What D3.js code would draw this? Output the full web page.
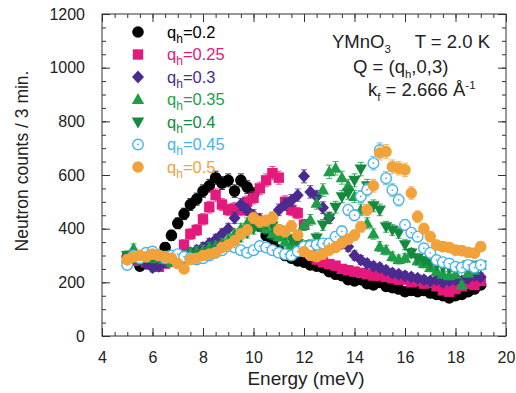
<!DOCTYPE html>
<html>
<head>
<meta charset="utf-8">
<script src="https://cdn.jsdelivr.net/npm/d3@7"></script>
<style>
  html, body { margin: 0; padding: 0; background: #fff; }
  svg { display: block; font-family: "Liberation Sans", Arial, Helvetica, sans-serif; }
</style>
</head>
<body>
<svg id="chart" width="516" height="393"></svg>
<script>
// Energy transfer grid (meV)
const energy = [
  5.00, 5.25, 5.50, 5.75, 6.00, 6.25, 6.50, 6.75, 7.00, 7.25, 7.50, 7.75,
  8.00, 8.25, 8.50, 8.75, 9.00, 9.25, 9.50, 9.75, 10.00, 10.25, 10.50, 10.75,
  11.00, 11.25, 11.50, 11.75, 12.00, 12.25, 12.50, 12.75, 13.00, 13.25, 13.50, 13.75,
  14.00, 14.25, 14.50, 14.75, 15.00, 15.25, 15.50, 15.75, 16.00, 16.25, 16.50, 16.75,
  17.00, 17.25, 17.50, 17.75, 18.00, 18.25, 18.50, 18.75, 19.00
];

// Neutron counts per 3 min for each q_h
const q020 = [
  295, 290, 260, 270, 285, 300, 330, 375, 420, 455, 490, 510,
  540, 560, 590, 570, 580, 540, 580, 555, 530, 410, 375, 350,
  320, 300, 290, 280, 275, 265, 260, 255, 240, 230, 225, 210,
  205, 210, 195, 190, 200, 185, 180, 175, 165, 170, 165, 170,
  160, 155, 150, 142, 150, 155, 165, 175, 190
];
const q025 = [
  290, 280, 285, 275, 265, 258, 270, 285, 300, 340, 380, 395,
  435, 480, 525, 490, 470, 475, 470, 500, 515, 550, 580, 607,
  590, 500, 470, 458, 414, 330, 285, 275, 268, 262, 250, 245,
  240, 235, 230, 225, 225, 220, 215, 210, 210, 200, 205, 195,
  200, 185, 170, 165, 175, 185, 195, 190, 205
];
const q030 = [
  280, 290, 285, 270, 255, 260, 275, 280, 290, 300, 310, 320,
  330, 345, 360, 380, 400, 440, 490, 470, 450, 435, 420, 440,
  470, 490, 505, 525, 595, 537, 520, 478, 440, 358, 345, 333,
  300, 283, 270, 260, 255, 245, 235, 230, 225, 220, 215, 210,
  205, 210, 200, 205, 210, 205, 215, 225, 220
];
const q035 = [
  290, 325, 300, 295, 290, 300, 285, 275, 290, 300, 310, 315,
  320, 330, 335, 345, 360, 380, 400, 420, 430, 415, 400, 380,
  370, 350, 340, 360, 414, 432, 495, 544, 612, 625, 590, 560,
  520, 470, 420, 380, 333, 320, 296, 285, 290, 309, 280, 270,
  255, 240, 230, 225, 230, 190, 235, 246, 265
];
const q040 = [
  300, 290, 285, 300, 295, 290, 300, 290, 295, 285, 290, 300,
  305, 310, 320, 330, 340, 350, 370, 385, 400, 410, 420, 410,
  395, 380, 360, 345, 335, 340, 365, 414, 440, 480, 519, 533,
  580, 622, 560, 485, 470, 407, 395, 384, 340, 309, 290, 280,
  270, 265, 258, 255, 258, 255, 265, 260, 265
];
const q045 = [
  265, 300, 290, 310, 315, 300, 290, 300, 305, 295, 290, 285,
  290, 300, 310, 320, 335, 330, 320, 310, 320, 335, 330, 320,
  310, 305, 300, 315, 333, 335, 340, 345, 345, 370, 390, 470,
  450, 520, 545, 644, 693, 588, 544, 507, 414, 385, 370, 327,
  310, 283, 275, 270, 258, 255, 265, 255, 265
];
const q050 = [
  285, 295, 300, 295, 305, 300, 295, 290, 270, 250, 285, 290,
  300, 305, 310, 330, 340, 355, 380, 395, 440, 426, 430, 440,
  395, 389, 410, 376, 314, 300, 296, 305, 320, 330, 347, 360,
  376, 407, 470, 560, 682, 687, 631, 625, 619, 533, 445, 400,
  370, 339, 333, 330, 320, 318, 312, 309, 333
];

// Axis ticks
const xTickLabels = [4, 6, 8, 10, 12, 14, 16, 18, 20];
const yTickLabels = [0, 200, 400, 600, 800, 1000, 1200];

// Series styling
const seriesNames = ["0.2", "0.25", "0.3", "0.35", "0.4", "0.45", "0.5"];
const seriesColors = ["#000000", "#e3197b", "#4b2b8f", "#1f9e4a", "#138a3e", "#49b4e8", "#f2a23a"];
const seriesShapes = ["circle", "square", "diamond", "triUp", "triDown", "ring", "circle"];
const seriesValues = [q020, q025, q030, q035, q040, q045, q050];

const svg = d3.select("#chart");
const x = d3.scaleLinear().domain([4, 20]).range([102, 506]);
const y = d3.scaleLinear().domain([0, 1200]).range([336, 14]);
const frameColor = "#333";
const labelFont = "Liberation Sans, Arial, sans-serif";

// Marker shapes
const shapePath = {
  circle: d3.symbol(d3.symbolCircle, Math.PI * 5.8 * 5.8)(),
  square: "M-5.2,-5.2H5.2V5.2H-5.2Z",
  diamond: "M0,-6.5L6,0L0,6.5L-6,0Z",
  triUp: "M0,-6.5L6.2,4.5L-6.2,4.5Z",
  triDown: "M0,6.5L6.2,-4.5L-6.2,-4.5Z"
};

function drawMarker(g, shape, color) {
  if (shape === "ring") {
    g.append("circle").attr("r", 5.3).attr("fill", "#fff")
      .attr("stroke", color).attr("stroke-width", 1.4);
    g.append("circle").attr("r", 0.9).attr("fill", color);
  } else {
    g.append("path").attr("d", shapePath[shape]).attr("fill", color);
  }
}

// Axes: labelled majors + short minor ticks, all pointing inward
const xMinor = d3.range(4, 20.001, 0.5);
const yMinor = d3.range(0, 1200.001, 50);

function styleAxis(g) {
  g.select(".domain").remove();
  g.selectAll(".tick line").attr("stroke", frameColor).attr("stroke-width", 1);
}

svg.append("g").attr("transform", "translate(0,336)")
  .call(d3.axisBottom(x).tickValues(xMinor).tickSize(-4).tickFormat(""))
  .call(styleAxis);
svg.append("g").attr("transform", "translate(0,336)")
  .call(d3.axisBottom(x).tickValues(xTickLabels).tickSize(-8).tickPadding(16).tickFormat(d3.format("d")))
  .call(styleAxis)
  .call(g => g.selectAll("text").attr("font-size", 16).attr("fill", "#222").attr("font-family", labelFont));
svg.append("g").attr("transform", "translate(0,14)")
  .call(d3.axisTop(x).tickValues(xMinor).tickSize(-4).tickFormat(""))
  .call(styleAxis);
svg.append("g").attr("transform", "translate(0,14)")
  .call(d3.axisTop(x).tickValues(xTickLabels).tickSize(-8).tickFormat(""))
  .call(styleAxis);

svg.append("g").attr("transform", "translate(102,0)")
  .call(d3.axisLeft(y).tickValues(yMinor).tickSize(-4).tickFormat(""))
  .call(styleAxis);
svg.append("g").attr("transform", "translate(102,0)")
  .call(d3.axisLeft(y).tickValues(yTickLabels).tickSize(-8).tickPadding(17).tickFormat(d3.format("d")))
  .call(styleAxis)
  .call(g => g.selectAll("text").attr("font-size", 16).attr("fill", "#222").attr("font-family", labelFont));
svg.append("g").attr("transform", "translate(506,0)")
  .call(d3.axisRight(y).tickValues(yMinor).tickSize(-4).tickFormat(""))
  .call(styleAxis);
svg.append("g").attr("transform", "translate(506,0)")
  .call(d3.axisRight(y).tickValues(yTickLabels).tickSize(-8).tickFormat(""))
  .call(styleAxis);

// Plot frame
svg.append("rect")
  .attr("x", x(4)).attr("y", y(1200))
  .attr("width", x(20) - x(4)).attr("height", y(0) - y(1200))
  .attr("fill", "none").attr("stroke", frameColor).attr("stroke-width", 1);

// Axis titles
svg.append("text")
  .attr("x", 306).attr("y", 385)
  .attr("text-anchor", "middle").attr("font-size", 19).attr("fill", "#222")
  .text("Energy (meV)");
svg.append("text")
  .attr("transform", "translate(28,161) rotate(-90)")
  .attr("text-anchor", "middle").attr("font-size", 17.5).attr("fill", "#222")
  .text("Neutron counts / 3 min.");

// Data: error bars (counting statistics) under markers, one series at a time
const plot = svg.append("g");
seriesValues.forEach((vals, si) => {
  const color = seriesColors[si];
  const pts = energy.map((e, i) => ({ e, v: vals[i] }));
  const g = plot.append("g");
  const eb = g.selectAll("g.err").data(pts).join("g").attr("class", "err")
    .attr("stroke", color).attr("stroke-width", 0.8);
  eb.append("line")
    .attr("x1", d => x(d.e)).attr("x2", d => x(d.e))
    .attr("y1", d => y(d.v - Math.sqrt(d.v))).attr("y2", d => y(d.v + Math.sqrt(d.v)));
  eb.append("line")
    .attr("x1", d => x(d.e) - 3).attr("x2", d => x(d.e) + 3)
    .attr("y1", d => y(d.v + Math.sqrt(d.v))).attr("y2", d => y(d.v + Math.sqrt(d.v)));
  eb.append("line")
    .attr("x1", d => x(d.e) - 3).attr("x2", d => x(d.e) + 3)
    .attr("y1", d => y(d.v - Math.sqrt(d.v))).attr("y2", d => y(d.v - Math.sqrt(d.v)));
  g.selectAll("g.pt").data(pts).join("g").attr("class", "pt")
    .attr("transform", d => `translate(${x(d.e)},${y(d.v)})`)
    .each(function () { drawMarker(d3.select(this), seriesShapes[si], color); });
});

// Legend
const legend = svg.append("g");
seriesNames.forEach((name, i) => {
  const cy = 32 + i * 22.5;
  const color = seriesColors[i];
  drawMarker(legend.append("g").attr("transform", `translate(138,${cy})`), seriesShapes[i], color);
  const t = legend.append("text").attr("x", 167).attr("y", cy + 5.5)
    .attr("font-size", 16.5).attr("fill", color);
  t.append("tspan").text("q");
  t.append("tspan").attr("dy", 5).attr("font-size", 12).text("h");
  t.append("tspan").attr("dy", -5).text("=" + name);
});

// Sample and instrument annotation
const ann = svg.append("g").attr("fill", "#222").attr("font-size", 18.5);
const l1 = ann.append("text").attr("x", 332).attr("y", 48);
l1.append("tspan").text("YMnO");
l1.append("tspan").attr("dy", 5).attr("font-size", 11.5).text("3");
ann.append("text").attr("x", 490).attr("y", 48).attr("text-anchor", "end").text("T = 2.0 K");
const l2 = ann.append("text").attr("x", 353).attr("y", 73);
l2.append("tspan").text("Q = (q");
l2.append("tspan").attr("dy", 5).attr("font-size", 11.5).text("h");
l2.append("tspan").attr("dy", -5).text(",0,3)");
const l3 = ann.append("text").attr("x", 368).attr("y", 96);
l3.append("tspan").text("k");
l3.append("tspan").attr("dy", 5).attr("font-size", 11.5).text("f");
l3.append("tspan").attr("dy", -5).text(" = 2.666 Å");
l3.append("tspan").attr("dy", -7).attr("font-size", 11.5).text("-1");
</script>
</body>
</html>
